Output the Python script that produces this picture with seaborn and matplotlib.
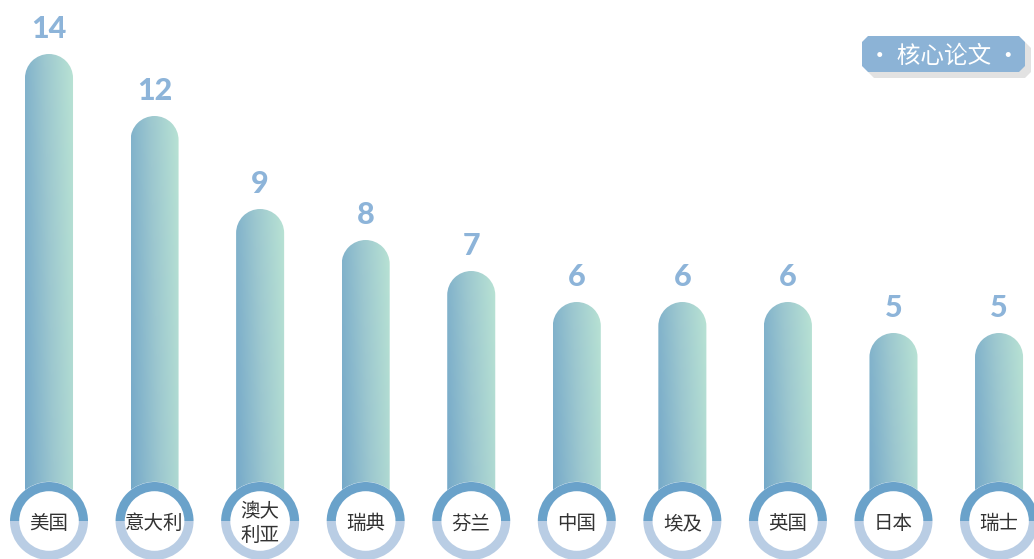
import numpy as np
import matplotlib
matplotlib.use('Agg')
import matplotlib.pyplot as plt
import seaborn as sns
import pandas as pd
from matplotlib.path import Path
from matplotlib.patches import PathPatch, Wedge, Circle, Polygon
from matplotlib.transforms import ScaledTranslation
from matplotlib.colors import LinearSegmentedColormap

# ---- data ----
categories = ['美国', '意大利', '澳大\n利亚', '瑞典', '芬兰', '中国', '埃及', '英国', '日本', '瑞士']
values = [14, 12, 9, 8, 7, 6, 6, 6, 5, 5]
badge_text = '· 核心论文 ·'

sns.set_theme(style='white')
plt.rcParams['font.family'] = ['Noto Sans CJK SC', 'DejaVu Sans']

W, H = 1034, 559
fig = plt.figure(figsize=(W / 100, H / 100), dpi=100)
ax = fig.add_axes([0, 0, 1, 1])

df = pd.DataFrame({'country': categories, 'value': values})
sns.barplot(data=df, x='country', y='value', ax=ax, width=0.455, color='#8fbccd')

# layout (pixels -> data)
px_x = 105.56   # px per category
px_y = 31.0     # px per unit value
x0px = 49.0
base_px = 488.0
ax.set_xlim(-x0px / px_x, (W - x0px) / px_x)
ax.set_ylim(-(H - base_px) / px_y, base_px / px_y)
ax.axis('off')
ring_y = -(521 - base_px) / px_y

cmap = LinearSegmentedColormap.from_list('g', ['#74a8c9', '#9cc7cf', '#b9e3d4'])
nx, ny = 80, 300
X, Y = np.meshgrid(np.linspace(0, 1, nx), np.linspace(0, 1, ny))
grad = np.clip(0.82 * X + 0.18 * Y, 0, 1)

tD = ax.transData
inv = tD.inverted()
bars = list(ax.patches)
for p in bars:
    bx, bw, bh = p.get_x(), p.get_width(), p.get_height()
    p.set_visible(False)
    xl, T = tD.transform((bx, bh))
    xr, _ = tD.transform((bx + bw, bh))
    _, B = tD.transform((bx, ring_y))
    r = (xr - xl) / 2
    cx = (xl + xr) / 2
    arc = Path.arc(0, 180)
    av = arc.vertices
    verts = [(xr, B), (xr, T - r)]
    codes = [Path.MOVETO, Path.LINETO]
    verts += [(cx + r * vx, T - r + r * vy) for vx, vy in av[1:]]
    codes += list(arc.codes[1:])
    verts += [(xl, B), (xr, B)]
    codes += [Path.LINETO, Path.CLOSEPOLY]
    dverts = inv.transform(np.array(verts))
    path = Path(dverts, codes)
    patch = PathPatch(path, facecolor='none', edgecolor='none', transform=ax.transData)
    ax.add_patch(patch)
    im = ax.imshow(grad, cmap=cmap, vmin=0, vmax=1, origin='lower', aspect='auto',
                   extent=[bx, bx + bw, ring_y, bh], zorder=2, interpolation='bilinear')
    im.set_clip_path(patch)

ax.set_xlim(-x0px / px_x, (W - x0px) / px_x)
ax.set_ylim(-(H - base_px) / px_y, base_px / px_y)

for i, (cat, v) in enumerate(zip(categories, values)):
    tr = fig.dpi_scale_trans + ScaledTranslation(i, ring_y, ax.transData)
    ax.add_patch(Circle((0, 0), 0.392, transform=tr, facecolor='white', edgecolor='none', zorder=4))
    ax.add_patch(Wedge((0, 0), 0.39, 0, 180, width=0.092, transform=tr,
                       facecolor='#6aa2ca', edgecolor='none', zorder=5))
    ax.add_patch(Wedge((0, 0), 0.39, 180, 360, width=0.092, transform=tr,
                       facecolor='#b9cde4', edgecolor='none', zorder=5))
    ax.annotate(cat, (i, ring_y), xytext=(0, -2), textcoords='offset points',
                ha='center', va='center', fontsize=14, color='#333333',
                linespacing=1.15, zorder=6)
    ax.annotate(str(v), (i, v), xytext=(0, 11.5), textcoords='offset points',
                ha='center', va='baseline', fontsize=22, fontweight='black',
                family=['Lato', 'DejaVu Sans'], color='#8db4d9', zorder=6)

# badge
def fig_pts(pts):
    return [(x / W, 1 - y / H) for x, y in pts]

def octo(x1, y1, x2, y2, c):
    return [(x1 + c, y1), (x2 - c, y1), (x2, y1 + c), (x2, y2 - c), (x2 - c, y2),
            (x1 + c, y2), (x1, y2 - c), (x1, y1 + c)]

bx1, by1, bx2, by2 = 862, 36, 1025, 72
fig.patches.append(Polygon(fig_pts(octo(bx1 + 6, by1 + 6, bx2 + 6, by2 + 6, 6)), closed=True,
                           transform=fig.transFigure, facecolor='#e2e2e2', edgecolor='none', zorder=1))
fig.patches.append(Polygon(fig_pts(octo(bx1, by1, bx2, by2, 6)), closed=True,
                           transform=fig.transFigure, facecolor='#8cb3d6', edgecolor='none', zorder=2))
fig.text((bx1 + bx2) / 2 / W, 1 - 56 / H, badge_text, ha='center', va='center',
         fontsize=17, color='white', zorder=3)

fig.savefig('out.png', dpi=100)
